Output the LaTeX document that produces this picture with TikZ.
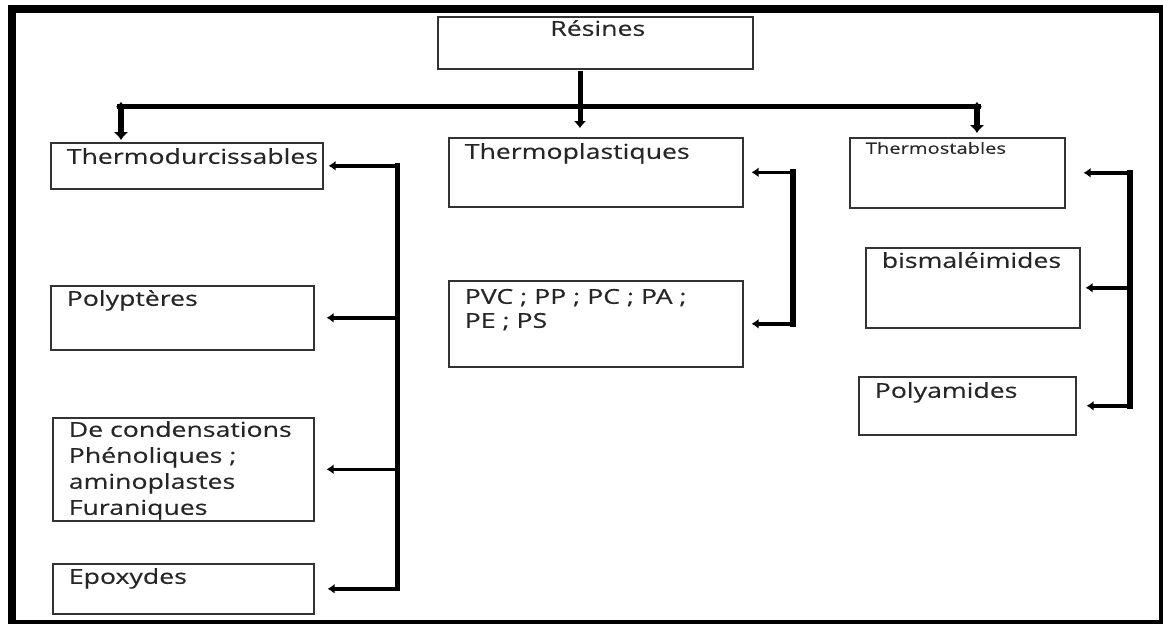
\documentclass[tikz,border=0pt]{standalone}
\usepackage{fontspec}
\setmainfont[FakeStretch=1.3,FakeBold=0.35]{Open Sans}
\usetikzlibrary{arrows.meta}

% text block of a box: fixed width and height, text at the top left
\newcommand\cadretexte[3]{\parbox[t][#2][t]{#1}{\leftskip=16pt\rightskip=0pt plus 1fil\parfillskip=0pt plus 1fil\parindent=0pt #3}}
\newcommand\haut[1]{\rule{0pt}{#1}}

\tikzset{
  boite/.style={draw=black!80, line width=1.6pt, inner sep=0pt, anchor=north west,
                text=black!85, font=\fontsize{20.5}{28.5}\selectfont},
  fleche/.style={line width=3.5pt, -{Latex[length=7pt,width=10pt]}},
  barre/.style={line width=5pt, line cap=rect},
  tronc/.style={line width=5pt, -{Latex[length=7pt,width=13pt]}},
  double/.style={line width=6pt, {Latex[length=5pt,width=11pt]}-{Latex[length=8pt,width=15pt]}},
}

\begin{document}
\begin{tikzpicture}[x=1pt,y=-1pt]
  \useasboundingbox (0,0) rectangle (1163,624);

  % outer frame
  \fill (8,5) rectangle (1163,13);
  \fill (8,5) rectangle (16,624);
  \fill (1159,5) rectangle (1163,624);
  \fill (8,620) rectangle (1163,624);

  % boxes
  \node[boite] (res) at (437,16) {\parbox[t][52pt][t]{315pt}{\centering\hspace*{5pt}\haut{19pt}Résines}};

  \node[boite] (td) at (50,142)  {\cadretexte{272pt}{46pt}{\haut{21pt}Thermodurcissables}};
  \node[boite] (tp) at (448,137) {\cadretexte{294pt}{69pt}{\haut{21pt}Thermoplastiques}};
  \node[boite] (ts) at (849,137) {\cadretexte{215pt}{70pt}{\fontsize{15.5}{20}\selectfont\haut{16pt}Thermostables}};

  \node[boite] (py) at (50,285)  {\cadretexte{263pt}{64pt}{\haut{20pt}Polyptères}};
  \node[boite] (pvc) at (448,280) {\cadretexte{294pt}{86pt}{\fontsize{20.5}{24}\selectfont\haut{23pt}PVC ; PP ; PC ; PA ;\\PE ; PS}};
  \node[boite] (bm) at (865,247) {\cadretexte{214pt}{80pt}{\haut{20pt}bismaléimides}};
  \node[boite] (pa) at (858,376) {\cadretexte{217pt}{58pt}{\haut{21pt}Polyamides}};

  \node[boite] (dc) at (52,417)  {\cadretexte{261pt}{103pt}{\fontsize{20.5}{26}\selectfont\haut{19pt}De condensations\\Phénoliques ;\\aminoplastes\\Furaniques}};
  \node[boite] (ep) at (52,563)  {\cadretexte{261pt}{50pt}{\haut{20pt}Epoxydes}};

  % top level distribution
  \coordinate (hub)  at (580,106);
  \coordinate (busL) at (121,106);
  \coordinate (busR) at (977,106);
  \draw[line width=5pt] (117,106) -- (981,106);
  \draw[tronc, shorten <=1pt, shorten >=9pt] (res.south -| hub) -- (tp.north -| hub);
  \draw[double, shorten >=2pt] ([yshift=4pt]busL) -- (busL |- td.north);
  \draw[double, shorten >=4pt] ([yshift=4pt]busR) -- (busR |- ts.north);

  % brackets
  \coordinate (axeL) at (397,0);
  \coordinate (axeM) at (793,0);
  \coordinate (axeR) at (1130,0);

  \draw[barre] (axeL |- td.east) -- (axeL |- ep.east);
  \draw[fleche] (axeL |- td.east) -- ([xshift=5pt]td.east);
  \draw[fleche] (axeL |- py.east) -- ([xshift=12pt]py.east);
  \draw[fleche] (axeL |- dc.east) -- ([xshift=12pt]dc.east);
  \draw[fleche] (axeL |- ep.east) -- ([xshift=13pt]ep.east);

  \draw[barre, line width=6pt] (axeM |- tp.east) -- (axeM |- pvc.east);
  \draw[fleche] (axeM |- tp.east) -- ([xshift=8pt]tp.east);
  \draw[fleche] (axeM |- pvc.east) -- ([xshift=8pt]pvc.east);

  \draw[barre, line width=6pt] (axeR |- ts.east) -- (axeR |- pa.east);
  \draw[fleche] (axeR |- ts.east) -- ([xshift=18pt]ts.east);
  \draw[fleche] (axeR |- bm.east) -- ([xshift=5pt]bm.east);
  \draw[fleche] (axeR |- pa.east) -- ([xshift=10pt]pa.east);
\end{tikzpicture}
\end{document}
